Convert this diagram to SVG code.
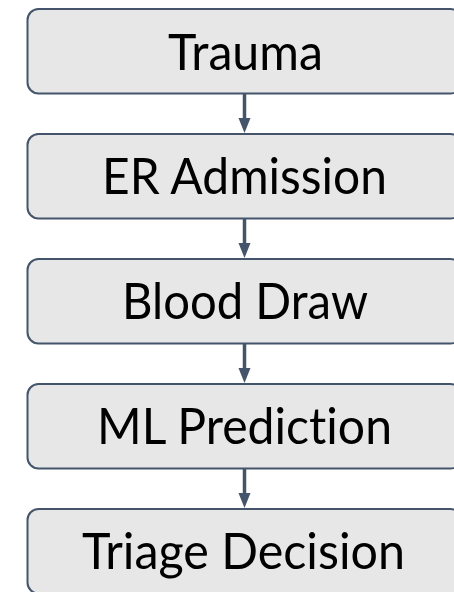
<svg xmlns="http://www.w3.org/2000/svg" width="454" height="592" viewBox="0 0 454 592">
  <defs>
    <style>
      .box { fill: #E7E7E7; stroke: #44546A; stroke-width: 2; }
      .lbl { font-family: Lato, "Open Sans", "Liberation Sans", sans-serif; font-size: 51px; fill: #000000; text-anchor: middle; font-variant-ligatures: none; font-feature-settings: "liga" 0, "clig" 0; }
      .conn { stroke: #44546A; stroke-width: 3.5; fill: none; }
      .head { fill: #44546A; }
    </style>
  </defs>
  <rect width="454" height="592" fill="#FFFFFF"/>
  <g id="connectors">
    <line class="conn" x1="244.5" y1="94" x2="244.5" y2="120"/>
    <polygon class="head" points="238.5,118 250.5,118 244.5,133"/>
    <line class="conn" x1="244.5" y1="219" x2="244.5" y2="245"/>
    <polygon class="head" points="238.5,243 250.5,243 244.5,258"/>
    <line class="conn" x1="244.5" y1="344" x2="244.5" y2="370"/>
    <polygon class="head" points="238.5,368 250.5,368 244.5,383"/>
    <line class="conn" x1="244.5" y1="469" x2="244.5" y2="495"/>
    <polygon class="head" points="238.5,493 250.5,493 244.5,508"/>
  </g>
  <g id="trauma">
    <rect class="box" x="27.5" y="9" width="434" height="84.5" rx="11"/>
    <text class="lbl" x="245.5" y="70" textLength="155" lengthAdjust="spacingAndGlyphs">Trauma</text>
  </g>
  <g id="er-admission">
    <rect class="box" x="27.5" y="134" width="434" height="84.5" rx="11"/>
    <text class="lbl" x="244.5" y="194" textLength="285" lengthAdjust="spacingAndGlyphs">ER Admission</text>
  </g>
  <g id="blood-draw">
    <rect class="box" x="27.5" y="259" width="434" height="84.5" rx="11"/>
    <text class="lbl" x="245" y="319" textLength="246" lengthAdjust="spacingAndGlyphs">Blood Draw</text>
  </g>
  <g id="ml-prediction">
    <rect class="box" x="27.5" y="384" width="434" height="84.5" rx="11"/>
    <text class="lbl" x="244.5" y="444" textLength="295" lengthAdjust="spacingAndGlyphs">ML Prediction</text>
  </g>
  <g id="triage-decision">
    <rect class="box" x="27.5" y="509" width="434" height="84.5" rx="11"/>
    <text class="lbl" x="243.5" y="569" textLength="323" lengthAdjust="spacingAndGlyphs">Triage Decision</text>
  </g>
</svg>
